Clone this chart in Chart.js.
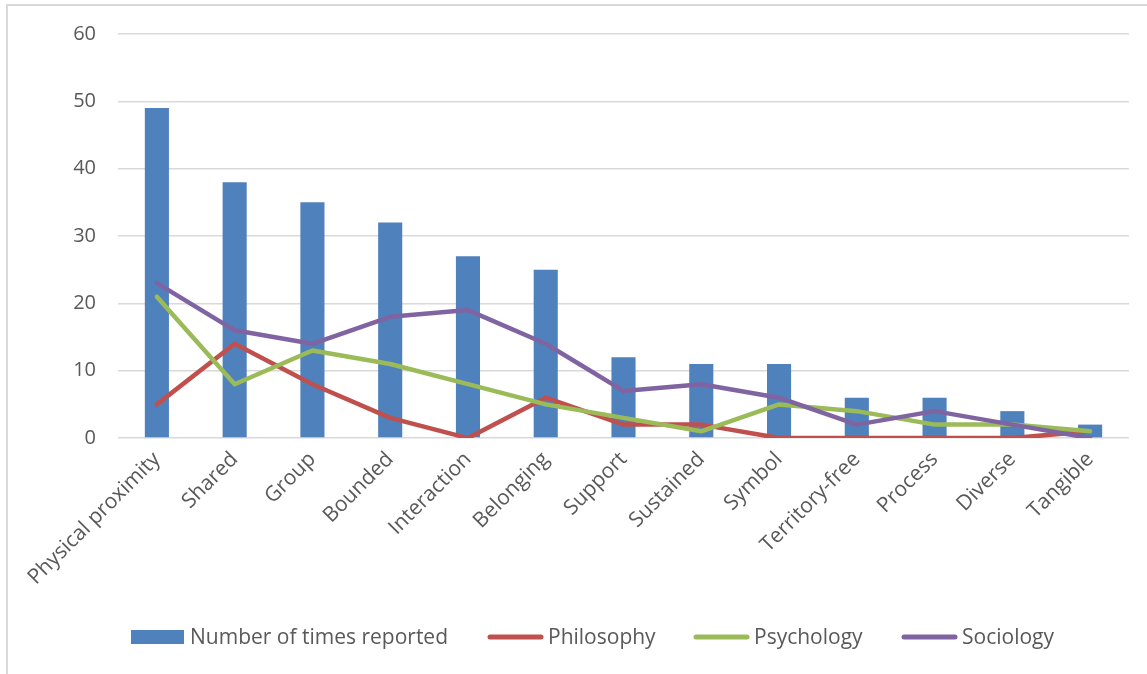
<!DOCTYPE html>
<html>
<head>
<meta charset="utf-8">
<title>Community attributes by discipline</title>
<script src="https://cdn.jsdelivr.net/npm/chart.js@4.4.1/dist/chart.umd.min.js"></script>
<style>
  html, body { margin: 0; padding: 0; background: #ffffff; }
  canvas { display: block; }
</style>
</head>
<body>
<canvas id="chart" width="1147" height="674"></canvas>
<script>
// Attributes of community and how often each was reported
const categories = ["Physical proximity", "Shared", "Group", "Bounded", "Interaction", "Belonging",
  "Support", "Sustained", "Symbol", "Territory-free", "Process", "Diverse", "Tangible"];
const timesReported = [49, 38, 35, 32, 27, 25, 12, 11, 11, 6, 6, 4, 2];
const philosophy    = [5, 14, 8, 3, 0, 6, 2, 2, 0, 0, 0, 0, 1];
const psychology    = [21, 8, 13, 11, 8, 5, 3, 1, 5, 4, 2, 2, 1];
const sociology     = [23, 16, 14, 18, 19, 14, 7, 8, 6, 2, 4, 2, 0];
const yTicks = [0, 10, 20, 30, 40, 50, 60];

const textColor = "#595959";
const gridColor = "#d9d9d9";
const baseFont = "'Open Sans', 'DejaVu Sans', sans-serif";

// Frame lines along the top and left edge of the figure
const framePlugin = {
  id: "frame",
  beforeDraw(chart) {
    const ctx = chart.ctx;
    ctx.save();
    ctx.fillStyle = "#ffffff";
    ctx.fillRect(0, 0, chart.width, chart.height);
    ctx.fillStyle = gridColor;
    ctx.fillRect(6, 4, chart.width - 6, 2);
    ctx.fillRect(6, 4, 2, chart.height - 4);
    ctx.restore();
  }
};

// Legend row under the axis: a box for the bars, short strokes for the lines
const legendRowPlugin = {
  id: "legendRow",
  afterDraw(chart, args, opts) {
    const ctx = chart.ctx;
    ctx.save();
    ctx.font = opts.font;
    ctx.fillStyle = textColor;
    ctx.textBaseline = "middle";
    chart.data.datasets.forEach((ds, i) => {
      const x = opts.starts[i];
      const y = opts.y;
      let textX;
      if (ds.type === "bar") {
        ctx.fillStyle = ds.backgroundColor;
        ctx.fillRect(x, y - 7, 53, 14);
        textX = x + 59;
      } else {
        ctx.strokeStyle = ds.borderColor;
        ctx.lineWidth = 5;
        ctx.lineCap = "round";
        ctx.beginPath();
        ctx.moveTo(x + 3, y);
        ctx.lineTo(x + 54, y);
        ctx.stroke();
        textX = x + 61;
      }
      ctx.fillStyle = textColor;
      ctx.fillText(ds.label, textX, y + 1);
    });
    ctx.restore();
  }
};

const lineStyle = (color) => ({
  type: "line",
  borderColor: color,
  backgroundColor: color,
  borderWidth: 4.5,
  pointRadius: 0,
  pointHoverRadius: 0,
  tension: 0,
  fill: false,
  borderCapStyle: "round",
  borderJoinStyle: "round"
});

new Chart(document.getElementById("chart"), {
  data: {
    labels: categories,
    datasets: [
      { type: "bar", label: "Number of times reported", data: timesReported,
        backgroundColor: "#4f81bd", borderWidth: 0,
        barPercentage: 0.5, categoryPercentage: 0.62, order: 4 },
      { ...lineStyle("#c0504d"), label: "Philosophy", data: philosophy, order: 3 },
      { ...lineStyle("#9bbb59"), label: "Psychology", data: psychology, order: 2 },
      { ...lineStyle("#8064a2"), label: "Sociology", data: sociology, order: 1 }
    ]
  },
  options: {
    responsive: false,
    animation: false,
    devicePixelRatio: 1,
    layout: { padding: { left: 0, right: 18, top: 34, bottom: 75 } },
    plugins: {
      legend: { display: false },
      tooltip: { enabled: false },
      legendRow: { y: 637, starts: [131, 487, 693, 901], font: "21px " + baseFont }
    },
    scales: {
      x: {
        offset: true,
        grid: { display: false, drawTicks: false },
        border: { display: false },
        ticks: {
          color: textColor,
          font: { family: baseFont, size: 21 },
          minRotation: 45,
          maxRotation: 45,
          padding: 9,
          autoSkip: false
        }
      },
      y: {
        min: 0,
        max: 60,
        afterFit(scale) { scale.width = 118; },
        afterBuildTicks(scale) { scale.ticks = yTicks.map(v => ({ value: v })); },
        grid: { color: gridColor, lineWidth: 1.5, drawTicks: false },
        border: { display: false },
        ticks: {
          color: textColor,
          font: { family: baseFont, size: 20 },
          padding: 22
        }
      }
    }
  },
  plugins: [framePlugin, legendRowPlugin]
});
</script>
</body>
</html>
